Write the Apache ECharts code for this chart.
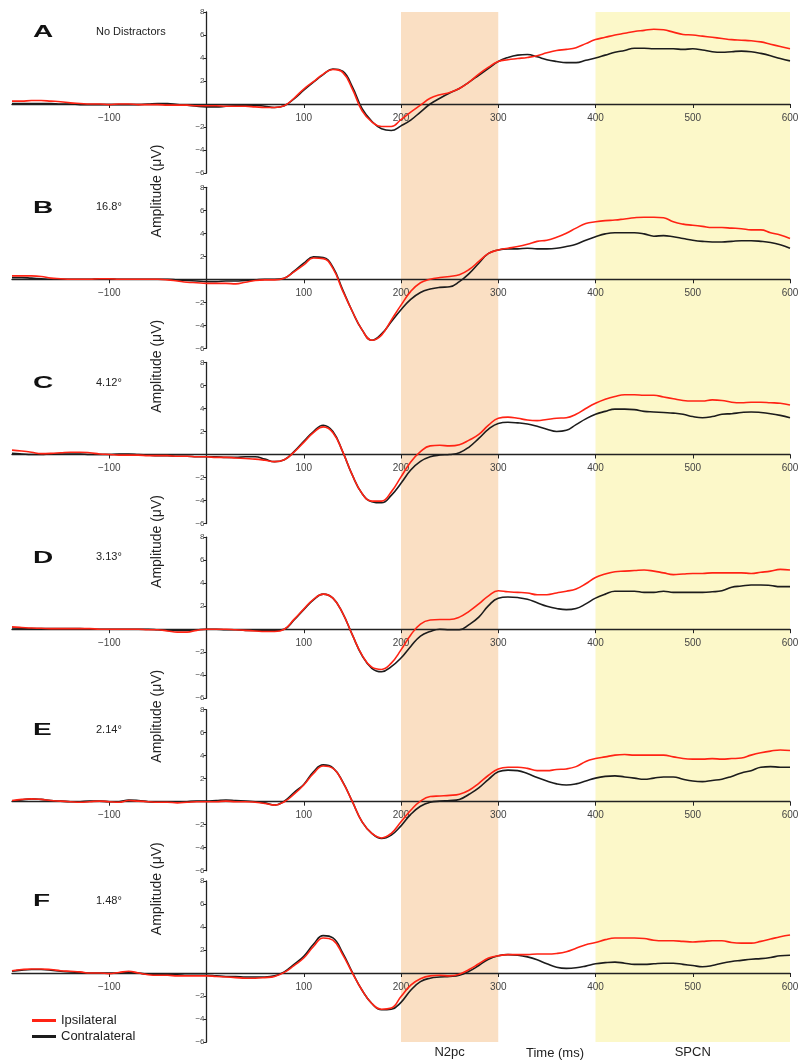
<!DOCTYPE html>
<html>
<head>
<meta charset="utf-8">
<title>Ipsilateral / contralateral waveforms</title>
<script src="https://cdn.jsdelivr.net/npm/echarts@6/dist/echarts.min.js"></script>
<style>
  html, body { margin: 0; padding: 0; background: #fff; }
  #chart { width: 799px; height: 1061px; }
</style>
</head>
<body>
<div id="chart"></div>
<script>
// time points (ms)
const times = [
  -200, -190, -180, -170, -160, -150, -140, -130, -120, -110,
  -100, -90, -80, -70, -60, -50, -40, -30, -20, -10,
  0, 10, 20, 30, 40, 50, 60, 70, 80, 90,
  100, 110, 120, 130, 140, 150, 160, 170, 180, 190,
  200, 210, 220, 230, 240, 250, 260, 270, 280, 290,
  300, 310, 320, 330, 340, 350, 360, 370, 380, 390,
  400, 410, 420, 430, 440, 450, 460, 470, 480, 490,
  500, 510, 520, 530, 540, 550, 560, 570, 580, 590,
  600
];

// tick labels
const xTickValues = [-100, 100, 200, 300, 400, 500, 600];
const yTickValues = [-6, -4, -2, 2, 4, 6, 8];

const panelLetters = ['A', 'B', 'C', 'D', 'E', 'F'];
const conditions = ['No Distractors', '16.8°', '4.12°', '3.13°', '2.14°', '1.48°'];

// time windows (ms)
const n2pcWindow = [200, 300];
const spcnWindow = [400, 600];

// amplitudes (µV), one row per panel
const ipsiA = [
  0.25, 0.25, 0.3, 0.3, 0.25, 0.2, 0.1, 0.05, 0, 0,
  -0.05, 0, 0, -0.05, -0.05, -0.05, -0.1, -0.1, -0.1, -0.15,
  -0.15, -0.15, -0.2, -0.2, -0.2, -0.25, -0.3, -0.3, -0.15, 0.5,
  1.3, 1.95, 2.6, 3.0, 2.75, 1.3, -0.6, -1.55, -1.95, -1.95,
  -1.35, -0.7, -0.1, 0.5, 0.8, 1.0, 1.35, 1.9, 2.6, 3.2,
  3.7, 3.85, 3.95, 4.05, 4.2, 4.45, 4.65, 4.75, 4.9, 5.25,
  5.6, 5.8, 6.0, 6.15, 6.3, 6.4, 6.5, 6.45, 6.25, 6.05,
  6.0, 5.9, 5.8, 5.7, 5.6, 5.55, 5.5, 5.4, 5.2, 5.0,
  4.8
];
const contraA = [
  0.05, 0.05, 0.05, 0.05, 0.05, 0, 0, -0.05, -0.05, -0.05,
  -0.05, -0.05, -0.05, -0.05, 0, 0.05, 0.05, -0.05, -0.1, -0.2,
  -0.25, -0.25, -0.2, -0.15, -0.1, -0.1, -0.2, -0.3, -0.15, 0.45,
  1.2, 1.9, 2.55, 3.05, 2.85, 1.5, -0.4, -1.5, -2.15, -2.3,
  -1.9, -1.4, -0.7, 0, 0.5, 0.95, 1.35, 1.9, 2.5, 3.1,
  3.7, 4.05, 4.25, 4.3, 4.1, 3.85, 3.7, 3.6, 3.6, 3.8,
  4.0, 4.25, 4.5, 4.65, 4.85, 4.85, 4.8, 4.8, 4.8, 4.75,
  4.8, 4.7, 4.55, 4.5, 4.55, 4.6, 4.55, 4.4, 4.2, 3.95,
  3.75
];
const ipsiB = [
  0.3, 0.3, 0.3, 0.25, 0.1, 0.05, 0, 0, 0, 0.05,
  0.05, 0, 0, 0, 0, 0, -0.05, -0.15, -0.25, -0.3,
  -0.35, -0.35, -0.35, -0.4, -0.25, -0.1, -0.05, -0.05, 0.1, 0.65,
  1.25, 1.85, 1.8, 0.95, -1.0, -2.8, -4.4, -5.3, -4.85, -3.55,
  -2.25, -1.05, -0.3, 0, 0.15, 0.25, 0.4, 0.85, 1.55, 2.25,
  2.55, 2.7, 2.85, 3.05, 3.3, 3.4, 3.65, 4.0, 4.45, 4.85,
  5.0, 5.1, 5.15, 5.25, 5.35, 5.4, 5.4, 5.35, 5.0, 4.8,
  4.7, 4.6, 4.5, 4.5, 4.45, 4.4, 4.3, 4.3, 4.05, 3.85,
  3.55
];
const contraB = [
  0.15, 0.15, 0.1, 0.05, 0, 0, 0, 0, 0, 0.05,
  0.05, 0, 0, 0, 0, 0, 0, -0.05, -0.1, -0.15,
  -0.2, -0.2, -0.15, -0.15, -0.1, -0.05, 0, 0, 0.1, 0.7,
  1.4, 1.95, 1.9, 1.05, -0.9, -2.8, -4.4, -5.3, -4.75, -3.7,
  -2.65, -1.75, -1.15, -0.85, -0.7, -0.65, -0.2, 0.5, 1.4, 2.25,
  2.55, 2.65, 2.65, 2.7, 2.65, 2.65, 2.7, 2.85, 3.05, 3.4,
  3.7, 3.95, 4.05, 4.05, 4.05, 3.95, 3.75, 3.8, 3.7, 3.55,
  3.4, 3.3, 3.25, 3.25, 3.3, 3.35, 3.35, 3.3, 3.2, 3.0,
  2.7
];
const ipsiC = [
  0.38, 0.3, 0.2, 0.08, 0.1, 0.15, 0.2, 0.2, 0.15, 0.05,
  0, -0.05, -0.05, -0.05, -0.1, -0.1, -0.1, -0.15, -0.15, -0.2,
  -0.2, -0.25, -0.25, -0.3, -0.35, -0.4, -0.5, -0.62, -0.45, 0.2,
  1.05, 1.9, 2.4, 1.9, 0.25, -1.8, -3.4, -4.05, -4.05, -3.25,
  -1.95, -0.65, 0.25, 0.75, 0.8, 0.75, 0.85, 1.25, 1.75, 2.55,
  3.15, 3.25, 3.15, 3.0, 2.95, 3.05, 3.15, 3.2, 3.5, 4.0,
  4.45, 4.8, 5.05, 5.2, 5.2, 5.15, 5.15, 5.0, 4.85, 4.7,
  4.65, 4.65, 4.75, 4.7, 4.55, 4.5, 4.55, 4.55, 4.5, 4.45,
  4.3
];
const contraC = [
  0.1, 0.05, 0, 0, 0.05, 0.05, 0.05, 0.05, 0, 0,
  0, 0.05, 0.05, 0, -0.05, -0.1, -0.1, -0.15, -0.15, -0.2,
  -0.2, -0.2, -0.25, -0.25, -0.2, -0.2, -0.4, -0.62, -0.45, 0.25,
  1.15, 2.0, 2.55, 2.0, 0.25, -1.8, -3.4, -4.1, -4.2, -3.55,
  -2.5, -1.35, -0.6, -0.2, -0.05, 0, 0.15, 0.65, 1.4, 2.2,
  2.7, 2.8, 2.75, 2.65, 2.45, 2.2, 2.0, 2.1, 2.6, 3.1,
  3.5, 3.75, 3.95, 3.95, 3.9, 3.75, 3.7, 3.65, 3.6, 3.5,
  3.3, 3.2, 3.3, 3.5, 3.55, 3.65, 3.7, 3.65, 3.55, 3.4,
  3.2
];
const ipsiD = [
  0.2, 0.15, 0.1, 0.08, 0.05, 0.05, 0.05, 0.05, 0.05, 0,
  0, 0, 0, 0, -0.05, -0.05, -0.15, -0.25, -0.25, -0.1,
  0, 0, 0, -0.05, -0.1, -0.15, -0.2, -0.2, 0, 0.85,
  1.75, 2.6, 3.05, 2.7, 1.4, -0.5, -2.25, -3.3, -3.5, -2.95,
  -1.8, -0.5, 0.45, 0.8, 0.85, 0.85, 1.05, 1.55, 2.2, 2.9,
  3.35, 3.25, 3.2, 3.15, 3.0, 3.0, 3.15, 3.3, 3.5, 3.95,
  4.5, 4.8, 5.0, 5.05, 5.1, 5.15, 5.05, 4.9, 4.75, 4.8,
  4.85, 4.85, 4.9, 4.9, 4.9, 4.9, 4.85, 4.95, 5.05, 5.2,
  5.15
];
const contraD = [
  0.1, 0.08, 0.05, 0.05, 0.05, 0.05, 0.05, 0.05, 0, 0,
  0, 0, 0, 0, 0, -0.05, -0.1, -0.1, -0.1, -0.05,
  0, 0, -0.05, -0.05, -0.1, -0.1, -0.1, -0.1, 0, 0.8,
  1.7, 2.55, 3.05, 2.7, 1.4, -0.5, -2.3, -3.4, -3.7, -3.25,
  -2.5, -1.5, -0.6, -0.2, 0, -0.05, -0.05, 0.4, 1.05, 2.05,
  2.7, 2.8, 2.75, 2.6, 2.3, 2.0, 1.8, 1.7, 1.8, 2.2,
  2.7, 3.05, 3.3, 3.3, 3.3, 3.2, 3.2, 3.3, 3.2, 3.2,
  3.2, 3.2, 3.25, 3.35, 3.65, 3.75, 3.85, 3.85, 3.8, 3.7,
  3.7
];
const ipsiE = [
  0.1, 0.2, 0.25, 0.2, 0.1, 0.05, 0, -0.05, 0, 0.05,
  0, -0.05, 0.1, 0.05, 0, -0.05, -0.05, -0.1, -0.05, 0,
  0, 0, 0.05, 0, 0, -0.05, -0.15, -0.3, 0, 0.65,
  1.45, 2.45, 3.1, 2.9, 1.7, 0, -1.75, -2.75, -3.15, -2.75,
  -1.75, -0.75, 0.05, 0.45, 0.5, 0.55, 0.65, 1.0, 1.6, 2.3,
  2.85, 3.0, 3.0, 2.9, 2.7, 2.7, 2.8, 2.85, 3.05, 3.5,
  3.75, 3.9, 4.05, 4.1, 4.05, 4.05, 4.05, 4.05, 3.9, 3.75,
  3.7, 3.7, 3.75, 3.7, 3.75, 3.8, 4.05, 4.25, 4.4, 4.5,
  4.45
];
const contraE = [
  0.05, 0.15, 0.25, 0.2, 0.1, 0.05, 0, 0, 0.05, 0.05,
  0, 0, 0.15, 0.1, 0, -0.05, -0.05, -0.05, 0, 0.05,
  0.05, 0.1, 0.15, 0.1, 0.05, 0, -0.1, -0.3, 0.05, 0.8,
  1.5, 2.6, 3.2, 2.95, 1.75, 0, -1.75, -2.75, -3.2, -2.9,
  -2.1, -1.1, -0.4, -0.05, 0.05, 0.1, 0.2, 0.65, 1.2, 1.95,
  2.6, 2.75, 2.7, 2.45, 2.1, 1.8, 1.55, 1.45, 1.55, 1.8,
  2.05, 2.2, 2.25, 2.15, 2.05, 1.95, 2.05, 2.15, 2.15, 1.95,
  1.8, 1.75, 1.85, 1.95, 2.2, 2.5, 2.7, 3.0, 3.05, 3.0,
  3.0
];
const ipsiF = [
  0.2, 0.3, 0.35, 0.35, 0.3, 0.2, 0.15, 0.1, 0, 0,
  -0.05, 0.05, 0.15, 0, -0.15, -0.2, -0.2, -0.25, -0.25, -0.25,
  -0.25, -0.3, -0.35, -0.4, -0.45, -0.45, -0.4, -0.3, 0.05, 0.65,
  1.3, 2.3, 3.05, 2.85, 1.6, 0, -1.5, -2.65, -3.15, -3.05,
  -2.05, -1.05, -0.5, -0.25, -0.2, -0.25, -0.1, 0.3, 0.8, 1.3,
  1.5, 1.6, 1.6, 1.6, 1.65, 1.65, 1.7, 1.85, 2.15, 2.45,
  2.65, 2.9, 3.05, 3.05, 3.05, 3.0, 2.85, 2.8, 2.8, 2.75,
  2.7, 2.75, 2.8, 2.8, 2.65, 2.6, 2.6, 2.75, 2.95, 3.15,
  3.3
];
const contraF = [
  0.15, 0.25, 0.3, 0.3, 0.25, 0.15, 0.1, 0.05, 0, 0,
  0, 0, 0.05, 0, -0.1, -0.1, -0.15, -0.15, -0.2, -0.2,
  -0.2, -0.25, -0.3, -0.3, -0.35, -0.35, -0.35, -0.25, 0.1, 0.75,
  1.45, 2.5, 3.25, 3.05, 1.75, 0.05, -1.5, -2.65, -3.2, -3.15,
  -2.55, -1.5, -0.75, -0.45, -0.35, -0.3, -0.2, 0.15, 0.65, 1.2,
  1.5, 1.6, 1.55, 1.4, 1.15, 0.8, 0.5, 0.4, 0.45, 0.6,
  0.8, 0.9, 0.95, 0.85, 0.75, 0.75, 0.8, 0.85, 0.85, 0.75,
  0.65, 0.55, 0.65, 0.85, 1.0, 1.1, 1.2, 1.25, 1.35, 1.5,
  1.55
];

const ipsilateral = [ipsiA, ipsiB, ipsiC, ipsiD, ipsiE, ipsiF];
const contralateral = [contraA, contraB, contraC, contraD, contraE, contraF];

// layout
const FONT = '"Liberation Sans", Arial, Helvetica, sans-serif';
const RED = '#ff2314';
const BLACK = '#1c1c1c';
const AXIS = '#222';
const zeroLines = [104, 279.3, 454.5, 629.2, 801.7, 973];
const unitPx = 11.5;
const plotLeft = 12;
const plotWidth = 778;
const xMin = -200, xMax = 600;
const yMin = -6, yMax = 8;

const minus = (v) => String(v).replace('-', '\u2212');

const chart = echarts.init(document.getElementById('chart'));

const grids = [], xAxes = [], yAxes = [], series = [], graphics = [];

// axes cross at (0, 0): shift them in from the grid edges
const xAxisShift = -(0 - yMin) * unitPx;
const yAxisShift = -(0 - xMin) / (xMax - xMin) * plotWidth;

zeroLines.forEach((z, i) => {
  grids.push({
    left: plotLeft, width: plotWidth,
    top: z - yMax * unitPx, height: (yMax - yMin) * unitPx,
    outerBoundsMode: 'none'
  });
  xAxes.push({
    gridIndex: i, type: 'value', min: xMin, max: xMax, interval: 100,
    position: 'bottom', offset: xAxisShift,
    axisLine: { onZero: false, lineStyle: { color: AXIS, width: 1.3 } },
    axisTick: { show: true, length: 4, customValues: xTickValues, lineStyle: { color: AXIS } },
    axisLabel: {
      fontSize: 10, fontFamily: FONT, color: '#444', margin: 9,
      customValues: xTickValues,
      formatter: (v) => minus(v)
    },
    splitLine: { show: false }
  });
  yAxes.push({
    gridIndex: i, type: 'value', min: yMin, max: yMax, interval: 2,
    position: 'left', offset: yAxisShift,
    axisLine: { show: true, onZero: false, lineStyle: { color: AXIS, width: 1.3 } },
    axisTick: { show: true, length: 3, customValues: yTickValues, lineStyle: { color: AXIS } },
    axisLabel: {
      fontSize: 8, fontFamily: FONT, color: '#444', margin: 2,
      customValues: yTickValues,
      formatter: (v) => minus(v)
    },
    splitLine: { show: false }
  });
  series.push({
    name: 'Contralateral', type: 'line', xAxisIndex: i, yAxisIndex: i,
    data: times.map((t, k) => [t, contralateral[i][k]]),
    smooth: 0.45, showSymbol: false, symbol: 'none',
    lineStyle: { color: BLACK, width: 1.6 }, itemStyle: { color: BLACK },
    z: 3
  });
  series.push({
    name: 'Ipsilateral', type: 'line', xAxisIndex: i, yAxisIndex: i,
    data: times.map((t, k) => [t, ipsilateral[i][k]]),
    smooth: 0.45, showSymbol: false, symbol: 'none',
    lineStyle: { color: RED, width: 1.6 }, itemStyle: { color: RED },
    z: 4
  });

  // panel letter + condition
  graphics.push({
    type: 'text', x: 33, y: z - 71, scaleX: 1.75,
    style: { text: panelLetters[i], font: 'bold 16px ' + FONT, fill: '#111', verticalAlign: 'middle' }
  });
  graphics.push({
    type: 'text', x: 96, y: z - 72,
    style: { text: conditions[i], font: '11px ' + FONT, fill: '#222', verticalAlign: 'middle' }
  });
  // y-axis title between panels
  if (i < 5) {
    graphics.push({
      type: 'text', x: 157, y: z + 87, rotation: Math.PI / 2,
      style: {
        text: 'Amplitude (\u03BCV)', font: '14px ' + FONT, fill: '#222',
        align: 'center', verticalAlign: 'middle'
      }
    });
  }
});

// full-height grid for the shaded time windows
grids.push({ left: plotLeft, width: plotWidth, top: 12, height: 1030, outerBoundsMode: 'none' });
xAxes.push({ gridIndex: 6, type: 'value', min: xMin, max: xMax, show: false });
yAxes.push({ gridIndex: 6, type: 'value', min: 0, max: 1, show: false });
series.push({
  type: 'line', xAxisIndex: 6, yAxisIndex: 6, data: [[xMin, 0]],
  symbol: 'none', lineStyle: { opacity: 0 }, silent: true, z: -2,
  markArea: {
    silent: true, z: -2,
    label: {
      show: true, position: 'bottom', distance: 4,
      fontSize: 13, fontFamily: FONT, color: '#222'
    },
    data: [
      [{ name: 'N2pc', xAxis: n2pcWindow[0], itemStyle: { color: '#fadfc3' } }, { xAxis: n2pcWindow[1] }],
      [{ name: 'SPCN', xAxis: spcnWindow[0], itemStyle: { color: '#fcf8c9' } }, { xAxis: spcnWindow[1] }]
    ]
  }
});

graphics.push({
  type: 'text', x: 555, y: 1053,
  style: { text: 'Time (ms)', font: '13px ' + FONT, fill: '#222', align: 'center', verticalAlign: 'middle' }
});

chart.setOption({
  backgroundColor: '#fff',
  animation: false,
  grid: grids,
  xAxis: xAxes,
  yAxis: yAxes,
  legend: {
    data: ['Ipsilateral', 'Contralateral'],
    orient: 'vertical', left: 27, top: 1009,
    icon: 'rect', itemWidth: 24, itemHeight: 3, itemGap: 3,
    textStyle: { fontSize: 13, fontFamily: FONT, color: '#222' }
  },
  graphic: graphics,
  series: series
});
</script>
</body>
</html>
